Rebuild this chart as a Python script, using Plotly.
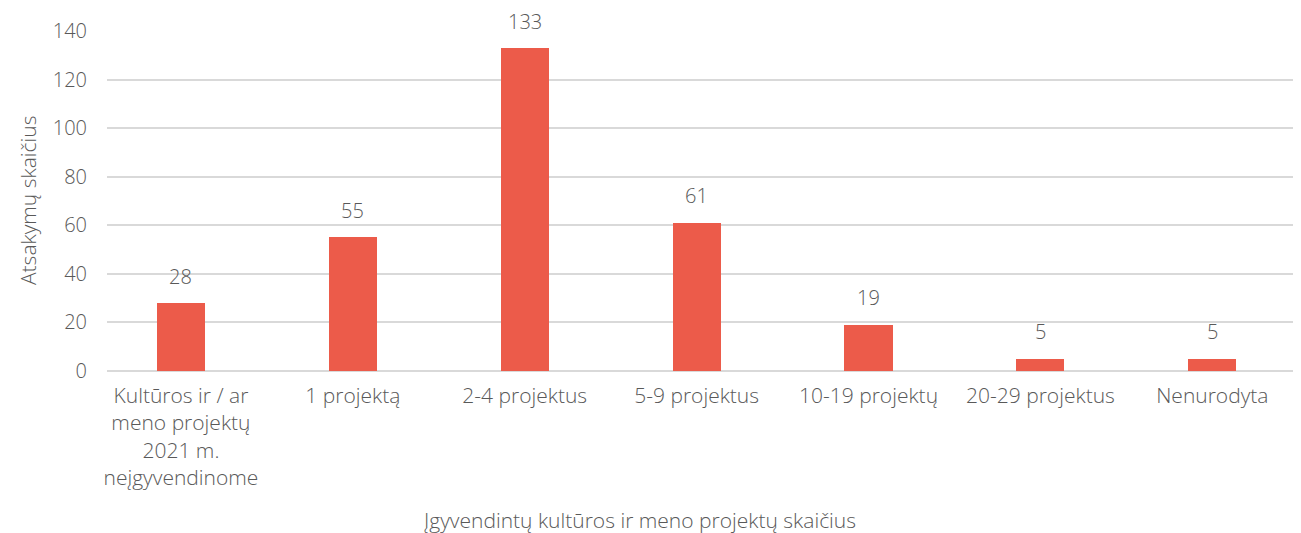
import plotly.graph_objects as go

# Data
categories = ["Kultūros ir / ar<br>meno projektų<br>2021 m.<br>neįgyvendinome",
              "1 projektą", "2-4 projektus", "5-9 projektus",
              "10-19 projektų", "20-29 projektus", "Nenurodyta"]
answers = [28, 55, 133, 61, 19, 5, 5]

# Style
Bar_Color = "rgb(236,91,74)"
Text_Color = "#595959"
Grid_Color = "#d9d9d9"
Font_Family = "'Open Sans', Lato, sans-serif"

fig = go.Figure()
fig.add_trace(go.Bar(x=list(range(len(categories))), y=answers, width=0.28,
                     marker=dict(color=Bar_Color, line=dict(width=0)),
                     hoverinfo="skip", showlegend=False))

# Data labels above the bars
annotations = []
for i, v in enumerate(answers):
    annotations.append(dict(x=i, y=v, text=str(v), showarrow=False, yanchor="middle",
                            yshift=27, font=dict(size=20, color=Text_Color, weight=300)))

# Axis titles
annotations.append(dict(xref="paper", yref="paper", x=0.447, y=-0.438, showarrow=False,
                        text="Įgyvendintų kultūros ir meno projektų skaičius",
                        xanchor="center", yanchor="middle",
                        font=dict(size=21, color=Text_Color, weight=300)))
annotations.append(dict(xref="paper", yref="paper", x=-0.0662, y=0.5, showarrow=False,
                        text="Atsakymų skaičius", textangle=-90,
                        xanchor="center", yanchor="middle",
                        font=dict(size=21, color=Text_Color, weight=300)))

# page body has an 8px margin, so the figure is sized to fit the window
fig.update_layout(
    width=1293, height=525,
    margin=dict(l=99, r=1, t=23, b=162),
    paper_bgcolor="white", plot_bgcolor="white",
    font=dict(family=Font_Family, size=20, color=Text_Color, weight=300),
    annotations=annotations,
    bargap=0,
)
fig.update_xaxes(range=[-0.43, 6.51], tickmode="array",
                 tickvals=list(range(len(categories))), ticktext=categories,
                 showgrid=False, zeroline=False, showline=False, ticks="",
                 ticklabelstandoff=10,
                 tickfont=dict(size=21, color=Text_Color, weight=300))
fig.update_yaxes(range=[0, 140], dtick=20, showgrid=True, gridcolor=Grid_Color,
                 gridwidth=1.5, zeroline=True, zerolinecolor=Grid_Color, zerolinewidth=1.5,
                 showline=False, ticks="", ticklabelstandoff=19,
                 tickfont=dict(size=20, color=Text_Color, weight=300))

fig.write_html("out.html")
